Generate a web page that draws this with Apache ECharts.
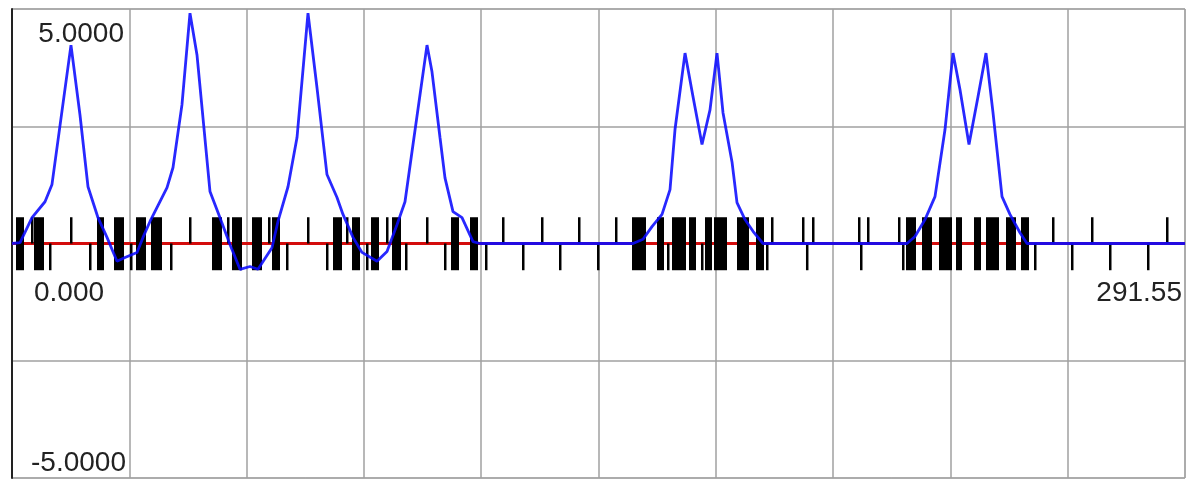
<!DOCTYPE html>
<html>
<head>
<meta charset="utf-8">
<script src="https://cdn.jsdelivr.net/npm/echarts@6/dist/echarts.min.js"></script>
<style>
  html, body { margin: 0; padding: 0; background: #fff; }
  #chart { width: 1187px; height: 480px; }
</style>
</head>
<body>
<div id="chart"></div>
<script>
// axis extents
var xMin = 0, xMax = 291.55;
var yMin = -5, yMax = 5;
var xLabels = ['0.000', '291.55'];
var yLabels = ['5.0000', '-5.0000'];

// blue signal trace
var signalX = [0, 2.0, 4.97, 8.2, 9.94, 14.66, 16.9, 18.89, 21.38, 23.61, 26.1, 28.09, 31.07, 32.56, 34.3,
    38.53, 40.02, 42.25, 44.24, 45.98, 49.21, 51.7, 54.18, 56.67, 59.15, 61.14, 64.62, 66.11, 68.6, 70.84,
    73.57, 75.81, 78.29, 80.78, 82.27, 84.76, 86.99, 90.72, 93.21, 95.69, 97.68, 99.67, 103.15, 104.39, 106.38,
    107.62, 109.61, 111.85, 114.58, 116.32, 154.35, 156.84, 159.07, 161.56, 163.55, 164.79, 167.28, 169.27, 171.5, 173.49,
    175.23, 176.72, 178.96, 180.2, 182.19, 184.18, 186.66, 222.45, 224.44, 226.93, 229.41, 231.9, 233.89, 235.63, 237.86,
    240.1, 242.09, 243.83, 246.07, 248.05, 250.54, 252.28, 291.55];
var signalY = [0, 0.02, 0.55, 0.89, 1.26, 4.23, 2.74, 1.21, 0.55, 0.13, -0.38, -0.30, -0.19, 0.13, 0.47,
    1.19, 1.62, 2.96, 4.91, 4.02, 1.11, 0.55, -0.02, -0.55, -0.49, -0.55, -0.09, 0.47, 1.21, 2.26,
    4.91, 3.32, 1.47, 0.98, 0.62, 0.13, -0.19, -0.38, -0.17, 0.40, 0.89, 2.11, 4.23, 3.66, 2.26,
    1.40, 0.68, 0.55, 0.04, 0, 0, 0.09, 0.36, 0.62, 1.15, 2.43, 4.06, 3.13, 2.11, 2.85,
    4.06, 2.79, 1.74, 0.87, 0.51, 0.26, 0, 0, 0.15, 0.51, 1.0, 2.43, 4.06, 3.28, 2.11,
    3.13, 4.06, 2.79, 1.0, 0.62, 0.23, 0, 0];

// rug ticks: single upward, single downward, and dense clusters [from, to]
var tickUp = 0.56, tickDown = -0.57;
var upTicks = [4.97, 14.66, 44.24, 53.69, 63.88, 73.57, 83.26, 93.21, 103.15, 122.04, 131.73, 140.93, 150.12,
    188.90, 196.60, 199.09, 210.52, 212.76, 220.46, 258.74, 268.43, 287.08];
var downTicks = [9.44, 19.39, 29.58, 39.52, 68.35, 78.29, 88.24, 97.93, 107.62, 117.81, 127.01, 136.20, 145.65,
    163.05, 171.5, 187.66, 197.59, 211.02, 221.46, 254.27, 263.46, 272.91, 282.35];
var tickBlocks = [[1.24, 3.23], [5.72, 8.20], [21.38, 23.12], [25.60, 28.09], [31.07, 33.55], [34.80, 37.53],
    [49.96, 52.44], [54.93, 57.42], [59.90, 62.39], [64.87, 66.86], [80.03, 82.27], [84.76, 86.74],
    [89.48, 91.47], [94.70, 96.93], [109.36, 111.35], [114.08, 116.07],
    [154.35, 157.83], [160.56, 162.30], [164.29, 167.77], [168.52, 170.26], [172.49, 174.24], [174.73, 177.96],
    [180.45, 183.43], [185.17, 187.16],
    [222.45, 224.94], [226.43, 228.91], [230.65, 233.89], [234.88, 236.37], [239.35, 241.09], [242.34, 245.57],
    [247.31, 249.80], [251.04, 253.03]];

var myChart = echarts.init(document.getElementById('chart'));

var signal = [];
for (var i = 0; i < signalX.length; i++) {
    signal.push([signalX[i], signalY[i]]);
}
var ticks = [];
upTicks.forEach(function (x) { ticks.push([x, x, 0, tickUp]); });
downTicks.forEach(function (x) { ticks.push([x, x, tickDown, 0]); });
tickBlocks.forEach(function (b) { ticks.push([b[0], b[1], tickDown, tickUp]); });

var font = '"Liberation Sans", Arial, sans-serif';

var option = {
    animation: false,
    backgroundColor: '#fff',
    grid: {
        left: 12,
        right: 2,
        top: 9,
        bottom: 2,
        show: true,
        borderColor: '#a0a0a0',
        borderWidth: 1
    },
    xAxis: {
        type: 'value',
        min: xMin,
        max: xMax,
        interval: (xMax - xMin) / 10,
        axisLine: { show: false },
        axisTick: { show: false },
        axisLabel: { show: false },
        splitLine: { lineStyle: { color: '#a0a0a0', width: 1.5 } }
    },
    yAxis: {
        type: 'value',
        min: yMin,
        max: yMax,
        interval: 2.5,
        axisLine: { show: true, onZero: false, lineStyle: { color: '#222', width: 2 } },
        axisTick: { show: false },
        axisLabel: { show: false },
        splitLine: { lineStyle: { color: '#a0a0a0', width: 1.5 } }
    },
    series: [{
        name: 'zero',
        type: 'line',
        data: [[xMin, 0], [xMax, 0]],
        showSymbol: false,
        z: 1,
        lineStyle: { color: '#d40c0c', width: 3 }
    }, {
        name: 'ticks',
        type: 'custom',
        z: 2,
        data: ticks,
        renderItem: function (params, api) {
            var p0 = api.coord([api.value(0), api.value(3)]);
            var p1 = api.coord([api.value(1), api.value(2)]);
            var w = Math.max(p1[0] - p0[0], 2.5);
            return {
                type: 'rect',
                shape: { x: p0[0] - 1, y: p0[1], width: w, height: p1[1] - p0[1] },
                style: { fill: '#000' }
            };
        }
    }, {
        name: 'signal',
        type: 'line',
        data: signal,
        showSymbol: false,
        z: 3,
        lineStyle: { color: 'rgba(10,10,255,0.88)', width: 2.8 }
    }]
};
myChart.setOption(option);

// corner labels placed from the axis extents
var tl = myChart.convertToPixel({ gridIndex: 0 }, [xMin, yMax]);
var bl = myChart.convertToPixel({ gridIndex: 0 }, [xMin, yMin]);
var z0 = myChart.convertToPixel({ gridIndex: 0 }, [xMin, 0]);
var z1 = myChart.convertToPixel({ gridIndex: 0 }, [xMax, 0]);
function label(text, x, y, align, valign) {
    return {
        type: 'text',
        x: x,
        y: y,
        z: 10,
        style: {
            text: text,
            fill: '#222',
            font: '28px ' + font,
            align: align,
            verticalAlign: valign
        }
    };
}
myChart.setOption({
    graphic: [
        label(yLabels[0], tl[0] + 112, tl[1] + 25, 'right', 'middle'),
        label(yLabels[1], bl[0] + 114, bl[1] - 15, 'right', 'middle'),
        label(xLabels[0], z0[0] + 22, z0[1] + 50, 'left', 'middle'),
        label(xLabels[1], z1[0] - 3, z1[1] + 50, 'right', 'middle')
    ]
});
</script>
</body>
</html>
